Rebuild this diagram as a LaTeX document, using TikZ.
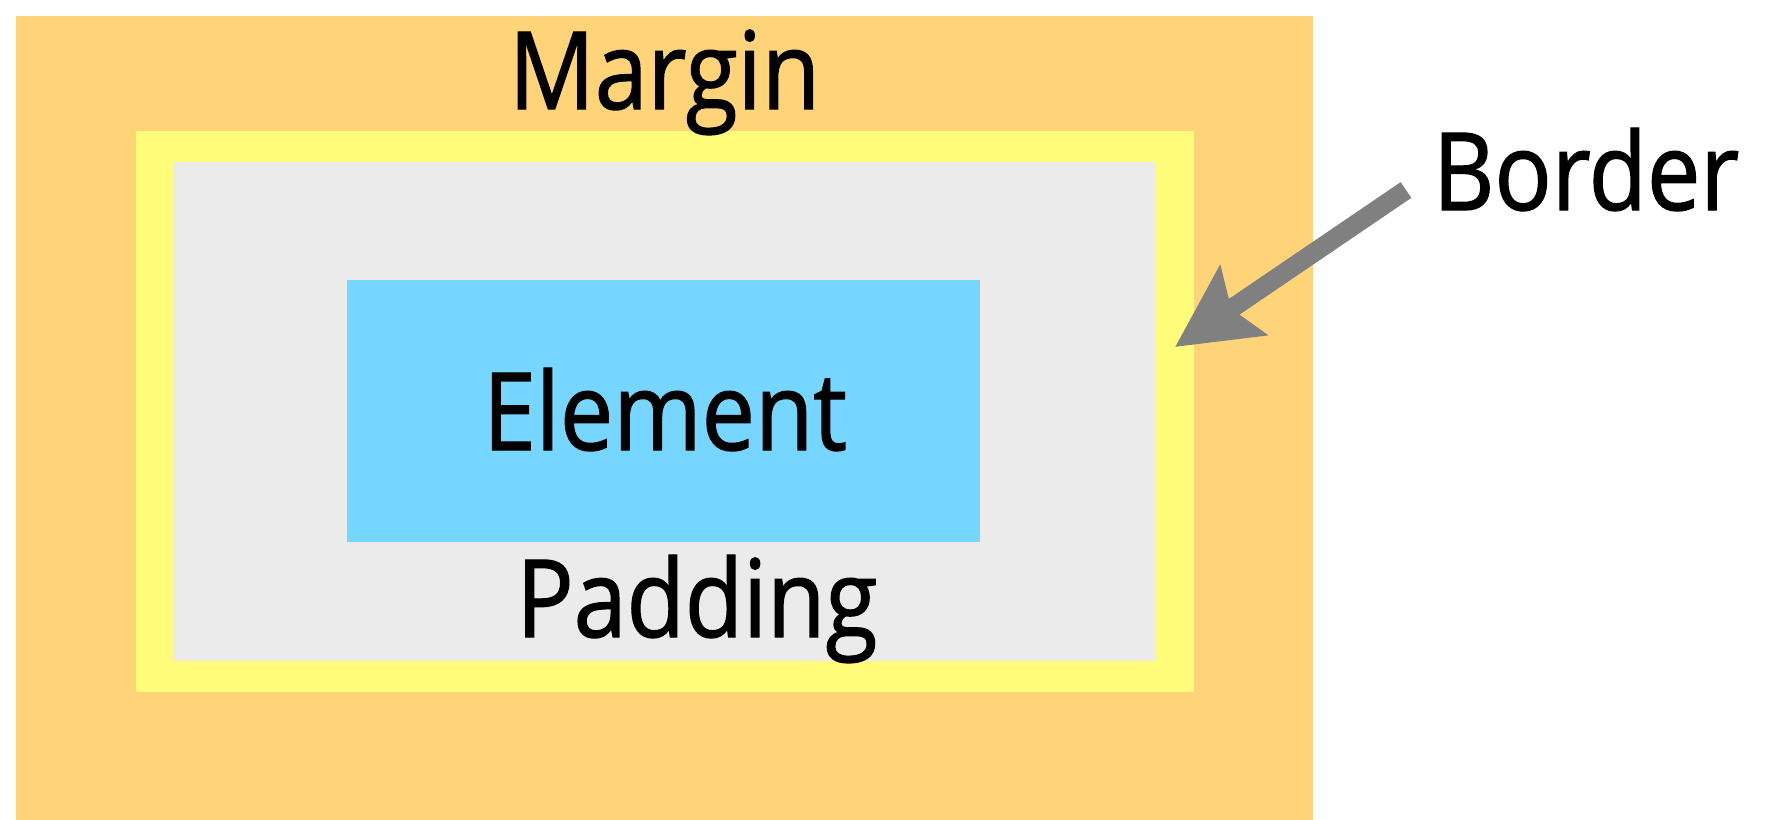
\documentclass[tikz,border=0pt]{standalone}
\usepackage{fontspec}
\setmainfont[FakeStretch=0.88, FakeBold=1.2]{Open Sans}
\usetikzlibrary{arrows.meta}

\definecolor{marginfill}{HTML}{FFD479}
\definecolor{borderfill}{HTML}{FFFC79}
\definecolor{paddingfill}{HTML}{EBEBEB}
\definecolor{elementfill}{HTML}{76D6FF}
\definecolor{arrowgray}{HTML}{808080}

\tikzset{
  layer/.style={draw=none, inner sep=0pt, outer sep=0pt},
  lbl/.style={font=\fontsize{54}{60}\selectfont, text=black, inner sep=0pt, anchor=base},
  pointer/.style={draw=arrowgray, line width=9.5pt, line cap=butt,
    -{Stealth[length=41pt, width=41pt, inset=7pt, fill=arrowgray]}},
}

\begin{document}
\begin{tikzpicture}[x=0.5pt, y=-0.5pt]
  \useasboundingbox (0,0) rectangle (1774,820);

  % nested boxes of the box model
  \path[layer, fill=marginfill]  (16,16)   rectangle (1313,820) coordinate (marginbox);
  \path[layer, fill=borderfill]  (136,131) rectangle (1194,692) coordinate (borderbox);
  \path[layer, fill=paddingfill] (173,162) rectangle (1156,661) coordinate (paddingbox);
  \path[layer, fill=elementfill] (347,280) rectangle (980,542) coordinate (elementbox);

  % labels
  \node[lbl] (margin)  at (664.5,109) {Margin};
  \node[lbl] (border)  at (1586,210) {Border};
  \node[lbl] (element) at (665,450) {Element};
  \node[lbl] (padding) at (697,637) {Padding};

  % pointer from the label to the border band
  \coordinate (tail) at (1406,190);
  \coordinate (tip)  at (1175,347);
  \draw[pointer] (tail) -- (tip);
\end{tikzpicture}
\end{document}
